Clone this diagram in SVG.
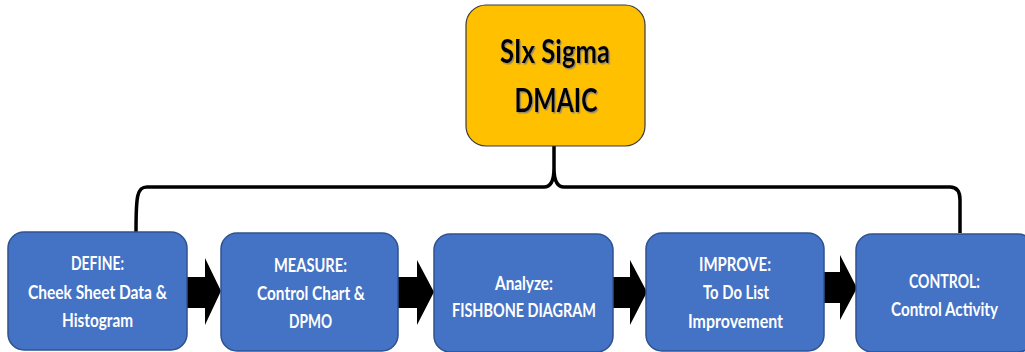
<svg xmlns="http://www.w3.org/2000/svg" width="1025" height="352" viewBox="0 0 1025 352">
<style>
.step{fill:#4472C4;stroke:#2F528F;stroke-width:1.5}
.st{fill:#FFFFFF;font-family:Lato,"Liberation Sans",sans-serif;font-weight:bold;font-size:18.5px;text-anchor:middle}
.top{fill:#FFC000;stroke:#3a3a3a;stroke-width:1.2}
.tt{fill:#000000;font-family:Lato,"Liberation Sans",sans-serif;font-weight:bold;font-size:32px;text-anchor:middle}
.arr{fill:#000000}
.brace{fill:none;stroke:#000000;stroke-width:3.5}
</style>
<defs>
<filter id="sh" x="-10%" y="-10%" width="120%" height="130%">
<feDropShadow dx="1.2" dy="1.5" stdDeviation="0.6" flood-color="#7f7f7f" flood-opacity="0.8"/>
</filter>
</defs>
<g id="connectors">
<path class="brace" d="M136,232 C136,196 137,187 147,187 L544,187 Q554,187 554,168 L554,146 M554,168 Q554,187 564,187 L950,187 Q960,187 960,200 L960,233"/>
<polygon class="arr" points="187,277 205,277 205,258 221,291 205,325 205,308 187,308"/>
<polygon class="arr" points="398,277 417,277 417,260 434,292 417,325 417,308 398,308"/>
<polygon class="arr" points="613,277 630,277 630,260 647,292 630,325 630,308 613,308"/>
<polygon class="arr" points="824,272 840,272 840,255 857,288 840,320 840,303 824,303"/>
</g>
<g id="node-top">
<rect class="top" x="466" y="5" width="179" height="141" rx="20"/>
<text class="tt" filter="url(#sh)"><tspan x="555" y="63" textLength="110" lengthAdjust="spacingAndGlyphs">SIx Sigma</tspan><tspan x="556" y="112" textLength="83" lengthAdjust="spacingAndGlyphs">DMAIC</tspan></text>
</g>
<g id="node-define">
<rect class="step" x="8" y="232" width="179" height="118" rx="16"/>
<text class="st"><tspan x="97.5" y="270" textLength="53" lengthAdjust="spacingAndGlyphs">DEFINE:</tspan><tspan x="97.5" y="299" textLength="139" lengthAdjust="spacingAndGlyphs">Cheek Sheet Data &amp;</tspan><tspan x="97.5" y="327" textLength="71" lengthAdjust="spacingAndGlyphs">Histogram</tspan></text>
</g>
<g id="node-measure">
<rect class="step" x="221" y="233" width="177" height="118" rx="16"/>
<text class="st"><tspan x="310.5" y="272" textLength="73" lengthAdjust="spacingAndGlyphs">MEASURE:</tspan><tspan x="311" y="300" textLength="108" lengthAdjust="spacingAndGlyphs">Control Chart &amp;</tspan><tspan x="310.5" y="328" textLength="43" lengthAdjust="spacingAndGlyphs">DPMO</tspan></text>
</g>
<g id="node-analyze">
<rect class="step" x="434" y="234" width="179" height="118" rx="16"/>
<text class="st"><tspan x="524" y="290" textLength="58" lengthAdjust="spacingAndGlyphs">Analyze:</tspan><tspan x="524" y="317" textLength="144" lengthAdjust="spacingAndGlyphs">FISHBONE DIAGRAM</tspan></text>
</g>
<g id="node-improve">
<rect class="step" x="646" y="233" width="178" height="118" rx="16"/>
<text class="st"><tspan x="735" y="271" textLength="72" lengthAdjust="spacingAndGlyphs">IMPROVE:</tspan><tspan x="736" y="299" textLength="66" lengthAdjust="spacingAndGlyphs">To Do List</tspan><tspan x="735.5" y="328" textLength="95" lengthAdjust="spacingAndGlyphs">Improvement</tspan></text>
</g>
<g id="node-control">
<rect class="step" x="856" y="234" width="178" height="118" rx="16"/>
<text class="st"><tspan x="944.5" y="288" textLength="71" lengthAdjust="spacingAndGlyphs">CONTROL:</tspan><tspan x="944.5" y="316" textLength="107" lengthAdjust="spacingAndGlyphs">Control Activity</tspan></text>
</g>
</svg>
